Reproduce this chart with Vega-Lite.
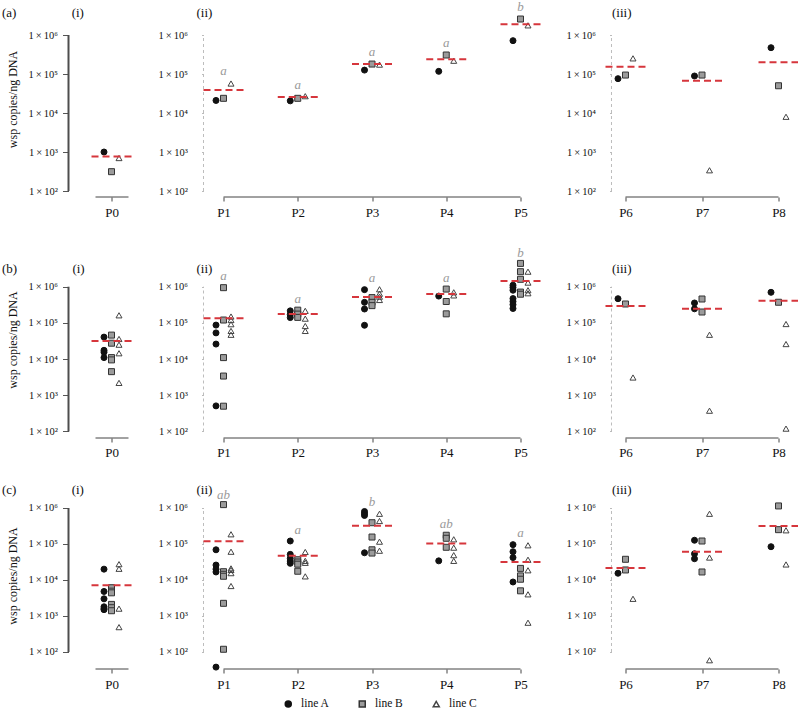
{
"$schema": "https://vega.github.io/schema/vega-lite/v6.json",
"padding": {"left": 1.5, "top": 0, "right": 0, "bottom": 0},
"datasets": {
"pts": [
{"r":"a","p":"P0","l":"line A","v":1000},{"r":"a","p":"P0","l":"line B","v":313},{"r":"a","p":"P0","l":"line C","v":700},
{"r":"a","p":"P1","l":"line A","v":21000},{"r":"a","p":"P1","l":"line B","v":23800},{"r":"a","p":"P1","l":"line C","v":57000},
{"r":"a","p":"P2","l":"line A","v":20500},{"r":"a","p":"P2","l":"line B","v":23800},{"r":"a","p":"P2","l":"line C","v":27000},
{"r":"a","p":"P3","l":"line A","v":126000},{"r":"a","p":"P3","l":"line B","v":180000},{"r":"a","p":"P3","l":"line C","v":174000},
{"r":"a","p":"P4","l":"line A","v":117000},{"r":"a","p":"P4","l":"line B","v":307000},{"r":"a","p":"P4","l":"line C","v":219000},
{"r":"a","p":"P5","l":"line A","v":716000},{"r":"a","p":"P5","l":"line B","v":2570000},{"r":"a","p":"P5","l":"line C","v":1770000},
{"r":"a","p":"P6","l":"line A","v":76000},{"r":"a","p":"P6","l":"line B","v":94000},{"r":"a","p":"P6","l":"line C","v":252000},
{"r":"a","p":"P7","l":"line A","v":89000},{"r":"a","p":"P7","l":"line B","v":94000},{"r":"a","p":"P7","l":"line C","v":340},
{"r":"a","p":"P8","l":"line A","v":473000},{"r":"a","p":"P8","l":"line B","v":50000},{"r":"a","p":"P8","l":"line C","v":8000},

{"r":"b","p":"P0","l":"line A","v":40500},{"r":"b","p":"P0","l":"line A","v":17500},{"r":"b","p":"P0","l":"line A","v":15500},{"r":"b","p":"P0","l":"line A","v":11000},
{"r":"b","p":"P0","l":"line B","v":46000},{"r":"b","p":"P0","l":"line B","v":27500},{"r":"b","p":"P0","l":"line B","v":11000},{"r":"b","p":"P0","l":"line B","v":9500},{"r":"b","p":"P0","l":"line B","v":4500},
{"r":"b","p":"P0","l":"line C","v":162000},{"r":"b","p":"P0","l":"line C","v":36000},{"r":"b","p":"P0","l":"line C","v":25000},{"r":"b","p":"P0","l":"line C","v":14500},{"r":"b","p":"P0","l":"line C","v":2200},
{"r":"b","p":"P1","l":"line A","v":87000},{"r":"b","p":"P1","l":"line A","v":53000},{"r":"b","p":"P1","l":"line A","v":26000},{"r":"b","p":"P1","l":"line A","v":510},
{"r":"b","p":"P1","l":"line B","v":940000},{"r":"b","p":"P1","l":"line B","v":120000},{"r":"b","p":"P1","l":"line B","v":11000},{"r":"b","p":"P1","l":"line B","v":3400},{"r":"b","p":"P1","l":"line B","v":500},
{"r":"b","p":"P1","l":"line C","v":150000},{"r":"b","p":"P1","l":"line C","v":120000},{"r":"b","p":"P1","l":"line C","v":92000},{"r":"b","p":"P1","l":"line C","v":60000},{"r":"b","p":"P1","l":"line C","v":47000},
{"r":"b","p":"P2","l":"line A","v":215000},{"r":"b","p":"P2","l":"line A","v":170000},{"r":"b","p":"P2","l":"line A","v":140000},
{"r":"b","p":"P2","l":"line B","v":225000},{"r":"b","p":"P2","l":"line B","v":175000},{"r":"b","p":"P2","l":"line B","v":142000},
{"r":"b","p":"P2","l":"line C","v":215000},{"r":"b","p":"P2","l":"line C","v":131000},{"r":"b","p":"P2","l":"line C","v":82000},{"r":"b","p":"P2","l":"line C","v":60000},
{"r":"b","p":"P3","l":"line A","v":830000},{"r":"b","p":"P3","l":"line A","v":370000},{"r":"b","p":"P3","l":"line A","v":242000},{"r":"b","p":"P3","l":"line A","v":86000},
{"r":"b","p":"P3","l":"line B","v":500000},{"r":"b","p":"P3","l":"line B","v":370000},{"r":"b","p":"P3","l":"line B","v":300000},
{"r":"b","p":"P3","l":"line C","v":850000},{"r":"b","p":"P3","l":"line C","v":640000},{"r":"b","p":"P3","l":"line C","v":530000},{"r":"b","p":"P3","l":"line C","v":430000},
{"r":"b","p":"P4","l":"line A","v":550000},
{"r":"b","p":"P4","l":"line B","v":860000},{"r":"b","p":"P4","l":"line B","v":390000},{"r":"b","p":"P4","l":"line B","v":178000},
{"r":"b","p":"P4","l":"line C","v":700000},{"r":"b","p":"P4","l":"line C","v":575000},
{"r":"b","p":"P5","l":"line A","v":1100000},{"r":"b","p":"P5","l":"line A","v":950000},{"r":"b","p":"P5","l":"line A","v":800000},{"r":"b","p":"P5","l":"line A","v":470000},{"r":"b","p":"P5","l":"line A","v":390000},{"r":"b","p":"P5","l":"line A","v":320000},{"r":"b","p":"P5","l":"line A","v":250000},
{"r":"b","p":"P5","l":"line B","v":4400000},{"r":"b","p":"P5","l":"line B","v":2600000},{"r":"b","p":"P5","l":"line B","v":1600000},{"r":"b","p":"P5","l":"line B","v":710000},{"r":"b","p":"P5","l":"line B","v":620000},
{"r":"b","p":"P5","l":"line C","v":2600000},{"r":"b","p":"P5","l":"line C","v":1300000},{"r":"b","p":"P5","l":"line C","v":800000},{"r":"b","p":"P5","l":"line C","v":660000},
{"r":"b","p":"P6","l":"line A","v":466000},{"r":"b","p":"P6","l":"line B","v":333000},{"r":"b","p":"P6","l":"line C","v":3100},
{"r":"b","p":"P7","l":"line A","v":355000},{"r":"b","p":"P7","l":"line A","v":245000},{"r":"b","p":"P7","l":"line B","v":457000},{"r":"b","p":"P7","l":"line B","v":200000},{"r":"b","p":"P7","l":"line C","v":47000},{"r":"b","p":"P7","l":"line C","v":375},
{"r":"b","p":"P8","l":"line A","v":700000},{"r":"b","p":"P8","l":"line B","v":372000},{"r":"b","p":"P8","l":"line C","v":93000},{"r":"b","p":"P8","l":"line C","v":26000},{"r":"b","p":"P8","l":"line C","v":120},

{"r":"c","p":"P0","l":"line A","v":20000},{"r":"c","p":"P0","l":"line A","v":4800},{"r":"c","p":"P0","l":"line A","v":3000},{"r":"c","p":"P0","l":"line A","v":1800},{"r":"c","p":"P0","l":"line A","v":1600},{"r":"c","p":"P0","l":"line A","v":1500},
{"r":"c","p":"P0","l":"line B","v":6100},{"r":"c","p":"P0","l":"line B","v":4900},{"r":"c","p":"P0","l":"line B","v":4400},{"r":"c","p":"P0","l":"line B","v":2100},{"r":"c","p":"P0","l":"line B","v":1700},{"r":"c","p":"P0","l":"line B","v":1400},
{"r":"c","p":"P0","l":"line C","v":27500},{"r":"c","p":"P0","l":"line C","v":20500},{"r":"c","p":"P0","l":"line C","v":1600},{"r":"c","p":"P0","l":"line C","v":490},
{"r":"c","p":"P1","l":"line A","v":69000},{"r":"c","p":"P1","l":"line A","v":26000},{"r":"c","p":"P1","l":"line A","v":20000},{"r":"c","p":"P1","l":"line A","v":16700},{"r":"c","p":"P1","l":"line A","v":38},
{"r":"c","p":"P1","l":"line B","v":1240000},{"r":"c","p":"P1","l":"line B","v":17000},{"r":"c","p":"P1","l":"line B","v":14400},{"r":"c","p":"P1","l":"line B","v":12700},{"r":"c","p":"P1","l":"line B","v":2250},{"r":"c","p":"P1","l":"line B","v":119},
{"r":"c","p":"P1","l":"line C","v":186000},{"r":"c","p":"P1","l":"line C","v":61000},{"r":"c","p":"P1","l":"line C","v":21000},{"r":"c","p":"P1","l":"line C","v":19000},{"r":"c","p":"P1","l":"line C","v":15500},{"r":"c","p":"P1","l":"line C","v":6800},
{"r":"c","p":"P2","l":"line A","v":121000},{"r":"c","p":"P2","l":"line A","v":51500},{"r":"c","p":"P2","l":"line A","v":40000},{"r":"c","p":"P2","l":"line A","v":33500},{"r":"c","p":"P2","l":"line A","v":29000},
{"r":"c","p":"P2","l":"line B","v":36500},{"r":"c","p":"P2","l":"line B","v":31600},{"r":"c","p":"P2","l":"line B","v":27500},{"r":"c","p":"P2","l":"line B","v":17500},
{"r":"c","p":"P2","l":"line C","v":60000},{"r":"c","p":"P2","l":"line C","v":34000},{"r":"c","p":"P2","l":"line C","v":30000},{"r":"c","p":"P2","l":"line C","v":12600},
{"r":"c","p":"P3","l":"line A","v":800000},{"r":"c","p":"P3","l":"line A","v":700000},{"r":"c","p":"P3","l":"line A","v":620000},{"r":"c","p":"P3","l":"line A","v":57000},
{"r":"c","p":"P3","l":"line B","v":390000},{"r":"c","p":"P3","l":"line B","v":156000},{"r":"c","p":"P3","l":"line B","v":69000},{"r":"c","p":"P3","l":"line B","v":56000},
{"r":"c","p":"P3","l":"line C","v":690000},{"r":"c","p":"P3","l":"line C","v":435000},{"r":"c","p":"P3","l":"line C","v":116000},{"r":"c","p":"P3","l":"line C","v":65000},
{"r":"c","p":"P4","l":"line A","v":34000},
{"r":"c","p":"P4","l":"line B","v":175000},{"r":"c","p":"P4","l":"line B","v":144000},{"r":"c","p":"P4","l":"line B","v":81000},
{"r":"c","p":"P4","l":"line C","v":135000},{"r":"c","p":"P4","l":"line C","v":79000},{"r":"c","p":"P4","l":"line C","v":49000},{"r":"c","p":"P4","l":"line C","v":34000},
{"r":"c","p":"P5","l":"line A","v":96000},{"r":"c","p":"P5","l":"line A","v":61000},{"r":"c","p":"P5","l":"line A","v":42000},{"r":"c","p":"P5","l":"line A","v":8800},
{"r":"c","p":"P5","l":"line B","v":21000},{"r":"c","p":"P5","l":"line B","v":13000},{"r":"c","p":"P5","l":"line B","v":10500},{"r":"c","p":"P5","l":"line B","v":5000},
{"r":"c","p":"P5","l":"line C","v":92000},{"r":"c","p":"P5","l":"line C","v":36500},{"r":"c","p":"P5","l":"line C","v":18600},{"r":"c","p":"P5","l":"line C","v":4000},{"r":"c","p":"P5","l":"line C","v":650},
{"r":"c","p":"P6","l":"line A","v":15400},{"r":"c","p":"P6","l":"line B","v":37600},{"r":"c","p":"P6","l":"line B","v":19000},{"r":"c","p":"P6","l":"line C","v":3000},
{"r":"c","p":"P7","l":"line A","v":127000},{"r":"c","p":"P7","l":"line A","v":53500},{"r":"c","p":"P7","l":"line A","v":39000},{"r":"c","p":"P7","l":"line B","v":121000},{"r":"c","p":"P7","l":"line B","v":16700},{"r":"c","p":"P7","l":"line C","v":690000},{"r":"c","p":"P7","l":"line C","v":42000},{"r":"c","p":"P7","l":"line C","v":59},
{"r":"c","p":"P8","l":"line A","v":84000},{"r":"c","p":"P8","l":"line B","v":1140000},{"r":"c","p":"P8","l":"line B","v":250000},{"r":"c","p":"P8","l":"line C","v":240000},{"r":"c","p":"P8","l":"line C","v":27000}
],
"means": [
{"r":"a","p":"P0","m":770},{"r":"a","p":"P1","m":39000,"lt":"a","ly":122000},{"r":"a","p":"P2","m":25700,"lt":"a","ly":52500},{"r":"a","p":"P3","m":180000,"lt":"a","ly":366000},{"r":"a","p":"P4","m":238000,"lt":"a","ly":630000},{"r":"a","p":"P5","m":1880000,"lt":"b","ly":5300000},{"r":"a","p":"P6","m":154000},{"r":"a","p":"P7","m":67000},{"r":"a","p":"P8","m":200000},
{"r":"b","p":"P0","m":31600},{"r":"b","p":"P1","m":134000,"lt":"a","ly":1980000},{"r":"b","p":"P2","m":176000,"lt":"a","ly":449000},{"r":"b","p":"P3","m":520000,"lt":"a","ly":1770000},{"r":"b","p":"P4","m":630000,"lt":"a","ly":1770000},{"r":"b","p":"P5","m":1440000,"lt":"b","ly":8700000},{"r":"b","p":"P6","m":293000},{"r":"b","p":"P7","m":245000},{"r":"b","p":"P8","m":410000},
{"r":"c","p":"P0","m":7200},{"r":"c","p":"P1","m":120000,"lt":"ab","ly":2340000},{"r":"c","p":"P2","m":47000,"lt":"a","ly":245000},{"r":"c","p":"P3","m":323000,"lt":"b","ly":1500000},{"r":"c","p":"P4","m":103000,"lt":"ab","ly":360000},{"r":"c","p":"P5","m":31600,"lt":"a","ly":198000},{"r":"c","p":"P6","m":21500},{"r":"c","p":"P7","m":61000},{"r":"c","p":"P8","m":316000}
]
},
"columns": 3,
"spacing": {"row": 44, "column": 71},
"bounds": "flush",
"align": "each",
"concat": [
{"width":64,"height":196,"title":{"text":"(a)\u00a0\u00a0\u00a0\u00a0\u00a0\u00a0\u00a0\u00a0\u00a0\u00a0\u00a0\u00a0\u00a0\u00a0\u00a0\u00a0\u00a0(i)","dx":-66.5,"offset":-19},
"resolve":{"scale":{"x":"independent"}},
"layer":[
{"data":{"name":"pts"},"transform":[{"filter":"datum.r == 'a' && datum.p == 'P0'"}],"mark":{"type":"point","opacity":1,"strokeWidth":1,"size":36},
"encoding":{"x":{"field":"p","type":"nominal","scale":{"type":"point","domain":["P0"],"padding":0,"align":0.672},"axis":{"title":null,"domain":false,"grid":false,"tickSize":4,"tickColor":"#444444","labelPadding":5,"labelAngle":0,"labelFont":"Liberation Serif","labelFontSize":13,"labelColor":"#111111"}},
"xOffset":{"field":"l","type":"nominal","scale":{"type":"point","domain":["line A","line B","line C"],"range":[-7.5,7.5],"padding":0}},
"y":{"field":"v","type":"quantitative","scale":{"type":"log","domain":[70.2,7450000],"nice":false},"axis":{"title":"wsp copies/ng DNA","domain":false,"grid":false,"values":[100,1000,10000,100000,1000000],"labelExpr":"'1\u2009×\u200910' + ['⁰','¹','²','³','⁴','⁵','⁶'][round(log(datum.value)/LN10)]","tickSize":6,"tickColor":"#555555","labelPadding":5,"labelFont":"Liberation Serif","labelFontSize":10.5,"labelColor":"#111111","titleFont":"Liberation Serif","titleFontSize":12,"titleFontWeight":"normal","titleColor":"#111111","titlePadding":8}},
"shape":{"field":"l","type":"nominal","scale":{"domain":["line A","line B","line C"],"range":["circle","square","triangle-up"]},"legend":{"title":null,"orient":"none","legendX":214,"legendY":697,"direction":"horizontal","columns":3,"gridAlign":"all","labelFont":"Liberation Serif","labelFontSize":11.5,"labelColor":"#111111","columnPadding":26,"labelOffset":7,"padding":0,"symbolSize":36}},
"fill":{"field":"l","type":"nominal","scale":{"domain":["line A","line B","line C"],"range":["#111111","#9b9b9b","transparent"]},"legend":{"title":null,"orient":"none","legendX":214,"legendY":697,"direction":"horizontal","columns":3,"gridAlign":"all","labelFont":"Liberation Serif","labelFontSize":11.5,"labelColor":"#111111","columnPadding":26,"labelOffset":7,"padding":0,"symbolSize":36}},
"stroke":{"field":"l","type":"nominal","scale":{"domain":["line A","line B","line C"],"range":["#111111","#333333","#444444"]},"legend":{"title":null,"orient":"none","legendX":214,"legendY":697,"direction":"horizontal","columns":3,"gridAlign":"all","labelFont":"Liberation Serif","labelFontSize":11.5,"labelColor":"#111111","columnPadding":26,"labelOffset":7,"padding":0,"symbolSize":36}}}},
{"data":{"values":[{}]},"mark":{"type":"rule","color":"#4d4d4d","strokeWidth":2},"encoding":{"x":{"datum":0,"type":"quantitative","scale":{"domain":[0,1]},"axis":null},"y":{"datum":100,"type":"quantitative"},"y2":{"datum":1000000}}},
{"data":{"values":[{}]},"mark":{"type":"rule","color":"#444444","strokeWidth":1,"xOffset":-16,"x2Offset":17},"encoding":{"x":{"datum":"P0","type":"nominal","scale":{"type":"point","domain":["P0"],"padding":0,"align":0.672},"axis":null},"x2":{"datum":"P0"},"y":{"datum":70.2,"type":"quantitative"}}},
{"data":{"name":"means"},"transform":[{"filter":"datum.r == 'a' && datum.p == 'P0'"}],"mark":{"type":"rule","color":"#d6363c","strokeWidth":2,"strokeDash":[7,4],"xOffset":-20,"x2Offset":20},"encoding":{"x":{"field":"p","type":"nominal","scale":{"type":"point","domain":["P0"],"padding":0,"align":0.672},"axis":null},"x2":{"field":"p"},"y":{"field":"m","type":"quantitative"}}}
]},
{"width":337,"height":196,"title":{"text":"(ii)","dx":-7,"offset":-19},
"layer":[
{"data":{"name":"pts"},"transform":[{"filter":"datum.r == 'a' && indexof(['P1','P2','P3','P4','P5'], datum.p) >= 0"}],"mark":{"type":"point","opacity":1,"strokeWidth":1,"size":36},
"encoding":{"x":{"field":"p","type":"nominal","scale":{"type":"point","domain":["P1","P2","P3","P4","P5"],"padding":0.2694},"axis":{"title":null,"domain":false,"grid":false,"tickSize":4,"tickColor":"#444444","labelPadding":5,"labelAngle":0,"labelFont":"Liberation Serif","labelFontSize":13,"labelColor":"#111111"}},
"xOffset":{"field":"l","type":"nominal","scale":{"type":"point","domain":["line A","line B","line C"],"range":[-7.5,7.5],"padding":0}},
"y":{"field":"v","type":"quantitative","scale":{"type":"log","domain":[70.2,7450000],"nice":false},"axis":{"title":null,"domain":false,"grid":false,"values":[100,1000,10000,100000,1000000],"labelExpr":"'1\u2009×\u200910' + ['⁰','¹','²','³','⁴','⁵','⁶'][round(log(datum.value)/LN10)]","tickSize":2,"tickColor":"#bbbbbb","labelPadding":14,"labelFont":"Liberation Serif","labelFontSize":10.5,"labelColor":"#111111"}},
"shape":{"field":"l","type":"nominal","scale":{"domain":["line A","line B","line C"],"range":["circle","square","triangle-up"]},"legend":{"title":null,"orient":"none","legendX":214,"legendY":697,"direction":"horizontal","columns":3,"gridAlign":"all","labelFont":"Liberation Serif","labelFontSize":11.5,"labelColor":"#111111","columnPadding":26,"labelOffset":7,"padding":0,"symbolSize":36}},
"fill":{"field":"l","type":"nominal","scale":{"domain":["line A","line B","line C"],"range":["#111111","#9b9b9b","transparent"]},"legend":{"title":null,"orient":"none","legendX":214,"legendY":697,"direction":"horizontal","columns":3,"gridAlign":"all","labelFont":"Liberation Serif","labelFontSize":11.5,"labelColor":"#111111","columnPadding":26,"labelOffset":7,"padding":0,"symbolSize":36}},
"stroke":{"field":"l","type":"nominal","scale":{"domain":["line A","line B","line C"],"range":["#111111","#333333","#444444"]},"legend":{"title":null,"orient":"none","legendX":214,"legendY":697,"direction":"horizontal","columns":3,"gridAlign":"all","labelFont":"Liberation Serif","labelFontSize":11.5,"labelColor":"#111111","columnPadding":26,"labelOffset":7,"padding":0,"symbolSize":36}}}},
{"data":{"values":[{}]},"mark":{"type":"rule","color":"#bdbdbd","strokeWidth":1,"strokeDash":[3,3],"xOffset":-20},"encoding":{"x":{"datum":"P1","type":"nominal"},"y":{"datum":100,"type":"quantitative"},"y2":{"datum":1000000}}},
{"data":{"values":[{}]},"mark":{"type":"rule","color":"#444444","strokeWidth":1},"encoding":{"x":{"datum":"P1","type":"nominal"},"x2":{"datum":"P5"},"y":{"datum":70.2,"type":"quantitative"}}},
{"data":{"name":"means"},"transform":[{"filter":"datum.r == 'a' && indexof(['P1','P2','P3','P4','P5'], datum.p) >= 0"}],"mark":{"type":"rule","color":"#d6363c","strokeWidth":2,"strokeDash":[7,4],"xOffset":-20,"x2Offset":20},"encoding":{"x":{"field":"p","type":"nominal"},"x2":{"field":"p"},"y":{"field":"m","type":"quantitative"}}},
{"data":{"name":"means"},"transform":[{"filter":"datum.r == 'a' && datum.lt != null && indexof(['P1','P2','P3','P4','P5'], datum.p) >= 0"}],"mark":{"type":"text","font":"Liberation Serif","fontStyle":"italic","fontSize":13,"color":"#9a9a9a","baseline":"middle"},"encoding":{"x":{"field":"p","type":"nominal"},"y":{"field":"ly","type":"quantitative"},"text":{"field":"lt"}}}
]},
{"width":181,"height":196,"title":{"text":"(iii)","dx":0.5,"offset":-19},
"layer":[
{"data":{"name":"pts"},"transform":[{"filter":"datum.r == 'a' && indexof(['P6','P7','P8'], datum.p) >= 0"}],"mark":{"type":"point","opacity":1,"strokeWidth":1,"size":36},
"encoding":{"x":{"field":"p","type":"nominal","scale":{"type":"point","domain":["P6","P7","P8"],"padding":0.183},"axis":{"title":null,"domain":false,"grid":false,"tickSize":4,"tickColor":"#444444","labelPadding":5,"labelAngle":0,"labelFont":"Liberation Serif","labelFontSize":13,"labelColor":"#111111"}},
"xOffset":{"field":"l","type":"nominal","scale":{"type":"point","domain":["line A","line B","line C"],"range":[-7.5,7.5],"padding":0}},
"y":{"field":"v","type":"quantitative","scale":{"type":"log","domain":[70.2,7450000],"nice":false},"axis":{"title":null,"domain":false,"grid":false,"values":[100,1000,10000,100000,1000000],"labelExpr":"'1\u2009×\u200910' + ['⁰','¹','²','³','⁴','⁵','⁶'][round(log(datum.value)/LN10)]","tickSize":2,"tickColor":"#bbbbbb","labelPadding":14,"labelFont":"Liberation Serif","labelFontSize":10.5,"labelColor":"#111111"}},
"shape":{"field":"l","type":"nominal","scale":{"domain":["line A","line B","line C"],"range":["circle","square","triangle-up"]},"legend":{"title":null,"orient":"none","legendX":214,"legendY":697,"direction":"horizontal","columns":3,"gridAlign":"all","labelFont":"Liberation Serif","labelFontSize":11.5,"labelColor":"#111111","columnPadding":26,"labelOffset":7,"padding":0,"symbolSize":36}},
"fill":{"field":"l","type":"nominal","scale":{"domain":["line A","line B","line C"],"range":["#111111","#9b9b9b","transparent"]},"legend":{"title":null,"orient":"none","legendX":214,"legendY":697,"direction":"horizontal","columns":3,"gridAlign":"all","labelFont":"Liberation Serif","labelFontSize":11.5,"labelColor":"#111111","columnPadding":26,"labelOffset":7,"padding":0,"symbolSize":36}},
"stroke":{"field":"l","type":"nominal","scale":{"domain":["line A","line B","line C"],"range":["#111111","#333333","#444444"]},"legend":{"title":null,"orient":"none","legendX":214,"legendY":697,"direction":"horizontal","columns":3,"gridAlign":"all","labelFont":"Liberation Serif","labelFontSize":11.5,"labelColor":"#111111","columnPadding":26,"labelOffset":7,"padding":0,"symbolSize":36}}}},
{"data":{"values":[{}]},"mark":{"type":"rule","color":"#bdbdbd","strokeWidth":1,"strokeDash":[3,3],"xOffset":-14},"encoding":{"x":{"datum":"P6","type":"nominal"},"y":{"datum":100,"type":"quantitative"},"y2":{"datum":1000000}}},
{"data":{"values":[{}]},"mark":{"type":"rule","color":"#444444","strokeWidth":1},"encoding":{"x":{"datum":"P6","type":"nominal"},"x2":{"datum":"P8"},"y":{"datum":70.2,"type":"quantitative"}}},
{"data":{"name":"means"},"transform":[{"filter":"datum.r == 'a' && indexof(['P6','P7','P8'], datum.p) >= 0"}],"mark":{"type":"rule","color":"#d6363c","strokeWidth":2,"strokeDash":[7,4],"xOffset":-20,"x2Offset":20},"encoding":{"x":{"field":"p","type":"nominal"},"x2":{"field":"p"},"y":{"field":"m","type":"quantitative"}}}
]},

{"width":64,"height":197,"title":{"text":"(b)\u00a0\u00a0\u00a0\u00a0\u00a0\u00a0\u00a0\u00a0\u00a0\u00a0\u00a0\u00a0\u00a0\u00a0\u00a0\u00a0\u00a0(i)","dx":-66.5,"offset":-35},
"resolve":{"scale":{"x":"independent"}},
"layer":[
{"data":{"name":"pts"},"transform":[{"filter":"datum.r == 'b' && datum.p == 'P0'"}],"mark":{"type":"point","opacity":1,"strokeWidth":1,"size":36},
"encoding":{"x":{"field":"p","type":"nominal","scale":{"type":"point","domain":["P0"],"padding":0,"align":0.672},"axis":{"title":null,"domain":false,"grid":false,"tickSize":4,"tickColor":"#444444","labelPadding":4,"labelAngle":0,"labelFont":"Liberation Serif","labelFontSize":13,"labelColor":"#111111"}},
"xOffset":{"field":"l","type":"nominal","scale":{"type":"point","domain":["line A","line B","line C"],"range":[-7.5,7.5],"padding":0}},
"y":{"field":"v","type":"quantitative","scale":{"type":"log","domain":[66.1,18300000],"nice":false},"axis":{"title":"wsp copies/ng DNA","domain":false,"grid":false,"values":[100,1000,10000,100000,1000000],"labelExpr":"'1\u2009×\u200910' + ['⁰','¹','²','³','⁴','⁵','⁶'][round(log(datum.value)/LN10)]","tickSize":6,"tickColor":"#555555","labelPadding":5,"labelFont":"Liberation Serif","labelFontSize":10.5,"labelColor":"#111111","titleFont":"Liberation Serif","titleFontSize":12,"titleFontWeight":"normal","titleColor":"#111111","titlePadding":8}},
"shape":{"field":"l","type":"nominal","scale":{"domain":["line A","line B","line C"],"range":["circle","square","triangle-up"]},"legend":{"title":null,"orient":"none","legendX":214,"legendY":697,"direction":"horizontal","columns":3,"gridAlign":"all","labelFont":"Liberation Serif","labelFontSize":11.5,"labelColor":"#111111","columnPadding":26,"labelOffset":7,"padding":0,"symbolSize":36}},
"fill":{"field":"l","type":"nominal","scale":{"domain":["line A","line B","line C"],"range":["#111111","#9b9b9b","transparent"]},"legend":{"title":null,"orient":"none","legendX":214,"legendY":697,"direction":"horizontal","columns":3,"gridAlign":"all","labelFont":"Liberation Serif","labelFontSize":11.5,"labelColor":"#111111","columnPadding":26,"labelOffset":7,"padding":0,"symbolSize":36}},
"stroke":{"field":"l","type":"nominal","scale":{"domain":["line A","line B","line C"],"range":["#111111","#333333","#444444"]},"legend":{"title":null,"orient":"none","legendX":214,"legendY":697,"direction":"horizontal","columns":3,"gridAlign":"all","labelFont":"Liberation Serif","labelFontSize":11.5,"labelColor":"#111111","columnPadding":26,"labelOffset":7,"padding":0,"symbolSize":36}}}},
{"data":{"values":[{}]},"mark":{"type":"rule","color":"#4d4d4d","strokeWidth":2},"encoding":{"x":{"datum":0,"type":"quantitative","scale":{"domain":[0,1]},"axis":null},"y":{"datum":100,"type":"quantitative"},"y2":{"datum":1000000}}},
{"data":{"values":[{}]},"mark":{"type":"rule","color":"#444444","strokeWidth":1,"xOffset":-16,"x2Offset":17},"encoding":{"x":{"datum":"P0","type":"nominal","scale":{"type":"point","domain":["P0"],"padding":0,"align":0.672},"axis":null},"x2":{"datum":"P0"},"y":{"datum":66.1,"type":"quantitative"}}},
{"data":{"name":"means"},"transform":[{"filter":"datum.r == 'b' && datum.p == 'P0'"}],"mark":{"type":"rule","color":"#d6363c","strokeWidth":2,"strokeDash":[7,4],"xOffset":-20,"x2Offset":20},"encoding":{"x":{"field":"p","type":"nominal","scale":{"type":"point","domain":["P0"],"padding":0,"align":0.672},"axis":null},"x2":{"field":"p"},"y":{"field":"m","type":"quantitative"}}}
]},
{"width":337,"height":197,"title":{"text":"(ii)","dx":-7,"offset":-35},
"layer":[
{"data":{"name":"pts"},"transform":[{"filter":"datum.r == 'b' && indexof(['P1','P2','P3','P4','P5'], datum.p) >= 0"}],"mark":{"type":"point","opacity":1,"strokeWidth":1,"size":36},
"encoding":{"x":{"field":"p","type":"nominal","scale":{"type":"point","domain":["P1","P2","P3","P4","P5"],"padding":0.2694},"axis":{"title":null,"domain":false,"grid":false,"tickSize":4,"tickColor":"#444444","labelPadding":4,"labelAngle":0,"labelFont":"Liberation Serif","labelFontSize":13,"labelColor":"#111111"}},
"xOffset":{"field":"l","type":"nominal","scale":{"type":"point","domain":["line A","line B","line C"],"range":[-7.5,7.5],"padding":0}},
"y":{"field":"v","type":"quantitative","scale":{"type":"log","domain":[66.1,18300000],"nice":false},"axis":{"title":null,"domain":false,"grid":false,"values":[100,1000,10000,100000,1000000],"labelExpr":"'1\u2009×\u200910' + ['⁰','¹','²','³','⁴','⁵','⁶'][round(log(datum.value)/LN10)]","tickSize":2,"tickColor":"#bbbbbb","labelPadding":14,"labelFont":"Liberation Serif","labelFontSize":10.5,"labelColor":"#111111"}},
"shape":{"field":"l","type":"nominal","scale":{"domain":["line A","line B","line C"],"range":["circle","square","triangle-up"]},"legend":{"title":null,"orient":"none","legendX":214,"legendY":697,"direction":"horizontal","columns":3,"gridAlign":"all","labelFont":"Liberation Serif","labelFontSize":11.5,"labelColor":"#111111","columnPadding":26,"labelOffset":7,"padding":0,"symbolSize":36}},
"fill":{"field":"l","type":"nominal","scale":{"domain":["line A","line B","line C"],"range":["#111111","#9b9b9b","transparent"]},"legend":{"title":null,"orient":"none","legendX":214,"legendY":697,"direction":"horizontal","columns":3,"gridAlign":"all","labelFont":"Liberation Serif","labelFontSize":11.5,"labelColor":"#111111","columnPadding":26,"labelOffset":7,"padding":0,"symbolSize":36}},
"stroke":{"field":"l","type":"nominal","scale":{"domain":["line A","line B","line C"],"range":["#111111","#333333","#444444"]},"legend":{"title":null,"orient":"none","legendX":214,"legendY":697,"direction":"horizontal","columns":3,"gridAlign":"all","labelFont":"Liberation Serif","labelFontSize":11.5,"labelColor":"#111111","columnPadding":26,"labelOffset":7,"padding":0,"symbolSize":36}}}},
{"data":{"values":[{}]},"mark":{"type":"rule","color":"#bdbdbd","strokeWidth":1,"strokeDash":[3,3],"xOffset":-20},"encoding":{"x":{"datum":"P1","type":"nominal"},"y":{"datum":100,"type":"quantitative"},"y2":{"datum":1000000}}},
{"data":{"values":[{}]},"mark":{"type":"rule","color":"#444444","strokeWidth":1},"encoding":{"x":{"datum":"P1","type":"nominal"},"x2":{"datum":"P5"},"y":{"datum":66.1,"type":"quantitative"}}},
{"data":{"name":"means"},"transform":[{"filter":"datum.r == 'b' && indexof(['P1','P2','P3','P4','P5'], datum.p) >= 0"}],"mark":{"type":"rule","color":"#d6363c","strokeWidth":2,"strokeDash":[7,4],"xOffset":-20,"x2Offset":20},"encoding":{"x":{"field":"p","type":"nominal"},"x2":{"field":"p"},"y":{"field":"m","type":"quantitative"}}},
{"data":{"name":"means"},"transform":[{"filter":"datum.r == 'b' && datum.lt != null && indexof(['P1','P2','P3','P4','P5'], datum.p) >= 0"}],"mark":{"type":"text","font":"Liberation Serif","fontStyle":"italic","fontSize":13,"color":"#9a9a9a","baseline":"middle"},"encoding":{"x":{"field":"p","type":"nominal"},"y":{"field":"ly","type":"quantitative"},"text":{"field":"lt"}}}
]},
{"width":181,"height":197,"title":{"text":"(iii)","dx":0.5,"offset":-35},
"layer":[
{"data":{"name":"pts"},"transform":[{"filter":"datum.r == 'b' && indexof(['P6','P7','P8'], datum.p) >= 0"}],"mark":{"type":"point","opacity":1,"strokeWidth":1,"size":36},
"encoding":{"x":{"field":"p","type":"nominal","scale":{"type":"point","domain":["P6","P7","P8"],"padding":0.183},"axis":{"title":null,"domain":false,"grid":false,"tickSize":4,"tickColor":"#444444","labelPadding":4,"labelAngle":0,"labelFont":"Liberation Serif","labelFontSize":13,"labelColor":"#111111"}},
"xOffset":{"field":"l","type":"nominal","scale":{"type":"point","domain":["line A","line B","line C"],"range":[-7.5,7.5],"padding":0}},
"y":{"field":"v","type":"quantitative","scale":{"type":"log","domain":[66.1,18300000],"nice":false},"axis":{"title":null,"domain":false,"grid":false,"values":[100,1000,10000,100000,1000000],"labelExpr":"'1\u2009×\u200910' + ['⁰','¹','²','³','⁴','⁵','⁶'][round(log(datum.value)/LN10)]","tickSize":2,"tickColor":"#bbbbbb","labelPadding":14,"labelFont":"Liberation Serif","labelFontSize":10.5,"labelColor":"#111111"}},
"shape":{"field":"l","type":"nominal","scale":{"domain":["line A","line B","line C"],"range":["circle","square","triangle-up"]},"legend":{"title":null,"orient":"none","legendX":214,"legendY":697,"direction":"horizontal","columns":3,"gridAlign":"all","labelFont":"Liberation Serif","labelFontSize":11.5,"labelColor":"#111111","columnPadding":26,"labelOffset":7,"padding":0,"symbolSize":36}},
"fill":{"field":"l","type":"nominal","scale":{"domain":["line A","line B","line C"],"range":["#111111","#9b9b9b","transparent"]},"legend":{"title":null,"orient":"none","legendX":214,"legendY":697,"direction":"horizontal","columns":3,"gridAlign":"all","labelFont":"Liberation Serif","labelFontSize":11.5,"labelColor":"#111111","columnPadding":26,"labelOffset":7,"padding":0,"symbolSize":36}},
"stroke":{"field":"l","type":"nominal","scale":{"domain":["line A","line B","line C"],"range":["#111111","#333333","#444444"]},"legend":{"title":null,"orient":"none","legendX":214,"legendY":697,"direction":"horizontal","columns":3,"gridAlign":"all","labelFont":"Liberation Serif","labelFontSize":11.5,"labelColor":"#111111","columnPadding":26,"labelOffset":7,"padding":0,"symbolSize":36}}}},
{"data":{"values":[{}]},"mark":{"type":"rule","color":"#bdbdbd","strokeWidth":1,"strokeDash":[3,3],"xOffset":-14},"encoding":{"x":{"datum":"P6","type":"nominal"},"y":{"datum":100,"type":"quantitative"},"y2":{"datum":1000000}}},
{"data":{"values":[{}]},"mark":{"type":"rule","color":"#444444","strokeWidth":1},"encoding":{"x":{"datum":"P6","type":"nominal"},"x2":{"datum":"P8"},"y":{"datum":66.1,"type":"quantitative"}}},
{"data":{"name":"means"},"transform":[{"filter":"datum.r == 'b' && indexof(['P6','P7','P8'], datum.p) >= 0"}],"mark":{"type":"rule","color":"#d6363c","strokeWidth":2,"strokeDash":[7,4],"xOffset":-20,"x2Offset":20},"encoding":{"x":{"field":"p","type":"nominal"},"x2":{"field":"p"},"y":{"field":"m","type":"quantitative"}}}
]},

{"width":64,"height":187,"title":{"text":"(c)\u00a0\u00a0\u00a0\u00a0\u00a0\u00a0\u00a0\u00a0\u00a0\u00a0\u00a0\u00a0\u00a0\u00a0\u00a0\u00a0\u00a0(i)","dx":-66.5,"offset":-15},
"resolve":{"scale":{"x":"independent"}},
"layer":[
{"data":{"name":"pts"},"transform":[{"filter":"datum.r == 'c' && datum.p == 'P0'"}],"mark":{"type":"point","opacity":1,"strokeWidth":1,"size":36},
"encoding":{"x":{"field":"p","type":"nominal","scale":{"type":"point","domain":["P0"],"padding":0,"align":0.672},"axis":{"title":null,"domain":false,"grid":false,"tickSize":4,"tickColor":"#444444","labelPadding":5,"labelAngle":0,"labelFont":"Liberation Serif","labelFontSize":13,"labelColor":"#111111"}},
"xOffset":{"field":"l","type":"nominal","scale":{"type":"point","domain":["line A","line B","line C"],"range":[-7.5,7.5],"padding":0}},
"y":{"field":"v","type":"quantitative","scale":{"type":"log","domain":[33.7,5270000],"nice":false},"axis":{"title":"wsp copies/ng DNA","domain":false,"grid":false,"values":[100,1000,10000,100000,1000000],"labelExpr":"'1\u2009×\u200910' + ['⁰','¹','²','³','⁴','⁵','⁶'][round(log(datum.value)/LN10)]","tickSize":6,"tickColor":"#555555","labelPadding":5,"labelFont":"Liberation Serif","labelFontSize":10.5,"labelColor":"#111111","titleFont":"Liberation Serif","titleFontSize":12,"titleFontWeight":"normal","titleColor":"#111111","titlePadding":8}},
"shape":{"field":"l","type":"nominal","scale":{"domain":["line A","line B","line C"],"range":["circle","square","triangle-up"]},"legend":{"title":null,"orient":"none","legendX":214,"legendY":697,"direction":"horizontal","columns":3,"gridAlign":"all","labelFont":"Liberation Serif","labelFontSize":11.5,"labelColor":"#111111","columnPadding":26,"labelOffset":7,"padding":0,"symbolSize":36}},
"fill":{"field":"l","type":"nominal","scale":{"domain":["line A","line B","line C"],"range":["#111111","#9b9b9b","transparent"]},"legend":{"title":null,"orient":"none","legendX":214,"legendY":697,"direction":"horizontal","columns":3,"gridAlign":"all","labelFont":"Liberation Serif","labelFontSize":11.5,"labelColor":"#111111","columnPadding":26,"labelOffset":7,"padding":0,"symbolSize":36}},
"stroke":{"field":"l","type":"nominal","scale":{"domain":["line A","line B","line C"],"range":["#111111","#333333","#444444"]},"legend":{"title":null,"orient":"none","legendX":214,"legendY":697,"direction":"horizontal","columns":3,"gridAlign":"all","labelFont":"Liberation Serif","labelFontSize":11.5,"labelColor":"#111111","columnPadding":26,"labelOffset":7,"padding":0,"symbolSize":36}}}},
{"data":{"values":[{}]},"mark":{"type":"rule","color":"#4d4d4d","strokeWidth":2},"encoding":{"x":{"datum":0,"type":"quantitative","scale":{"domain":[0,1]},"axis":null},"y":{"datum":100,"type":"quantitative"},"y2":{"datum":1000000}}},
{"data":{"values":[{}]},"mark":{"type":"rule","color":"#444444","strokeWidth":1,"xOffset":-16,"x2Offset":17},"encoding":{"x":{"datum":"P0","type":"nominal","scale":{"type":"point","domain":["P0"],"padding":0,"align":0.672},"axis":null},"x2":{"datum":"P0"},"y":{"datum":33.7,"type":"quantitative"}}},
{"data":{"name":"means"},"transform":[{"filter":"datum.r == 'c' && datum.p == 'P0'"}],"mark":{"type":"rule","color":"#d6363c","strokeWidth":2,"strokeDash":[7,4],"xOffset":-20,"x2Offset":20},"encoding":{"x":{"field":"p","type":"nominal","scale":{"type":"point","domain":["P0"],"padding":0,"align":0.672},"axis":null},"x2":{"field":"p"},"y":{"field":"m","type":"quantitative"}}}
]},
{"width":337,"height":187,"title":{"text":"(ii)","dx":-7,"offset":-15},
"layer":[
{"data":{"name":"pts"},"transform":[{"filter":"datum.r == 'c' && indexof(['P1','P2','P3','P4','P5'], datum.p) >= 0"}],"mark":{"type":"point","opacity":1,"strokeWidth":1,"size":36},
"encoding":{"x":{"field":"p","type":"nominal","scale":{"type":"point","domain":["P1","P2","P3","P4","P5"],"padding":0.2694},"axis":{"title":null,"domain":false,"grid":false,"tickSize":4,"tickColor":"#444444","labelPadding":5,"labelAngle":0,"labelFont":"Liberation Serif","labelFontSize":13,"labelColor":"#111111"}},
"xOffset":{"field":"l","type":"nominal","scale":{"type":"point","domain":["line A","line B","line C"],"range":[-7.5,7.5],"padding":0}},
"y":{"field":"v","type":"quantitative","scale":{"type":"log","domain":[33.7,5270000],"nice":false},"axis":{"title":null,"domain":false,"grid":false,"values":[100,1000,10000,100000,1000000],"labelExpr":"'1\u2009×\u200910' + ['⁰','¹','²','³','⁴','⁵','⁶'][round(log(datum.value)/LN10)]","tickSize":2,"tickColor":"#bbbbbb","labelPadding":14,"labelFont":"Liberation Serif","labelFontSize":10.5,"labelColor":"#111111"}},
"shape":{"field":"l","type":"nominal","scale":{"domain":["line A","line B","line C"],"range":["circle","square","triangle-up"]},"legend":{"title":null,"orient":"none","legendX":214,"legendY":697,"direction":"horizontal","columns":3,"gridAlign":"all","labelFont":"Liberation Serif","labelFontSize":11.5,"labelColor":"#111111","columnPadding":26,"labelOffset":7,"padding":0,"symbolSize":36}},
"fill":{"field":"l","type":"nominal","scale":{"domain":["line A","line B","line C"],"range":["#111111","#9b9b9b","transparent"]},"legend":{"title":null,"orient":"none","legendX":214,"legendY":697,"direction":"horizontal","columns":3,"gridAlign":"all","labelFont":"Liberation Serif","labelFontSize":11.5,"labelColor":"#111111","columnPadding":26,"labelOffset":7,"padding":0,"symbolSize":36}},
"stroke":{"field":"l","type":"nominal","scale":{"domain":["line A","line B","line C"],"range":["#111111","#333333","#444444"]},"legend":{"title":null,"orient":"none","legendX":214,"legendY":697,"direction":"horizontal","columns":3,"gridAlign":"all","labelFont":"Liberation Serif","labelFontSize":11.5,"labelColor":"#111111","columnPadding":26,"labelOffset":7,"padding":0,"symbolSize":36}}}},
{"data":{"values":[{}]},"mark":{"type":"rule","color":"#bdbdbd","strokeWidth":1,"strokeDash":[3,3],"xOffset":-20},"encoding":{"x":{"datum":"P1","type":"nominal"},"y":{"datum":100,"type":"quantitative"},"y2":{"datum":1000000}}},
{"data":{"values":[{}]},"mark":{"type":"rule","color":"#444444","strokeWidth":1},"encoding":{"x":{"datum":"P1","type":"nominal"},"x2":{"datum":"P5"},"y":{"datum":33.7,"type":"quantitative"}}},
{"data":{"name":"means"},"transform":[{"filter":"datum.r == 'c' && indexof(['P1','P2','P3','P4','P5'], datum.p) >= 0"}],"mark":{"type":"rule","color":"#d6363c","strokeWidth":2,"strokeDash":[7,4],"xOffset":-20,"x2Offset":20},"encoding":{"x":{"field":"p","type":"nominal"},"x2":{"field":"p"},"y":{"field":"m","type":"quantitative"}}},
{"data":{"name":"means"},"transform":[{"filter":"datum.r == 'c' && datum.lt != null && indexof(['P1','P2','P3','P4','P5'], datum.p) >= 0"}],"mark":{"type":"text","font":"Liberation Serif","fontStyle":"italic","fontSize":13,"color":"#9a9a9a","baseline":"middle"},"encoding":{"x":{"field":"p","type":"nominal"},"y":{"field":"ly","type":"quantitative"},"text":{"field":"lt"}}}
]},
{"width":181,"height":187,"title":{"text":"(iii)","dx":0.5,"offset":-15},
"layer":[
{"data":{"name":"pts"},"transform":[{"filter":"datum.r == 'c' && indexof(['P6','P7','P8'], datum.p) >= 0"}],"mark":{"type":"point","opacity":1,"strokeWidth":1,"size":36},
"encoding":{"x":{"field":"p","type":"nominal","scale":{"type":"point","domain":["P6","P7","P8"],"padding":0.183},"axis":{"title":null,"domain":false,"grid":false,"tickSize":4,"tickColor":"#444444","labelPadding":5,"labelAngle":0,"labelFont":"Liberation Serif","labelFontSize":13,"labelColor":"#111111"}},
"xOffset":{"field":"l","type":"nominal","scale":{"type":"point","domain":["line A","line B","line C"],"range":[-7.5,7.5],"padding":0}},
"y":{"field":"v","type":"quantitative","scale":{"type":"log","domain":[33.7,5270000],"nice":false},"axis":{"title":null,"domain":false,"grid":false,"values":[100,1000,10000,100000,1000000],"labelExpr":"'1\u2009×\u200910' + ['⁰','¹','²','³','⁴','⁵','⁶'][round(log(datum.value)/LN10)]","tickSize":2,"tickColor":"#bbbbbb","labelPadding":14,"labelFont":"Liberation Serif","labelFontSize":10.5,"labelColor":"#111111"}},
"shape":{"field":"l","type":"nominal","scale":{"domain":["line A","line B","line C"],"range":["circle","square","triangle-up"]},"legend":{"title":null,"orient":"none","legendX":214,"legendY":697,"direction":"horizontal","columns":3,"gridAlign":"all","labelFont":"Liberation Serif","labelFontSize":11.5,"labelColor":"#111111","columnPadding":26,"labelOffset":7,"padding":0,"symbolSize":36}},
"fill":{"field":"l","type":"nominal","scale":{"domain":["line A","line B","line C"],"range":["#111111","#9b9b9b","transparent"]},"legend":{"title":null,"orient":"none","legendX":214,"legendY":697,"direction":"horizontal","columns":3,"gridAlign":"all","labelFont":"Liberation Serif","labelFontSize":11.5,"labelColor":"#111111","columnPadding":26,"labelOffset":7,"padding":0,"symbolSize":36}},
"stroke":{"field":"l","type":"nominal","scale":{"domain":["line A","line B","line C"],"range":["#111111","#333333","#444444"]},"legend":{"title":null,"orient":"none","legendX":214,"legendY":697,"direction":"horizontal","columns":3,"gridAlign":"all","labelFont":"Liberation Serif","labelFontSize":11.5,"labelColor":"#111111","columnPadding":26,"labelOffset":7,"padding":0,"symbolSize":36}}}},
{"data":{"values":[{}]},"mark":{"type":"rule","color":"#bdbdbd","strokeWidth":1,"strokeDash":[3,3],"xOffset":-14},"encoding":{"x":{"datum":"P6","type":"nominal"},"y":{"datum":100,"type":"quantitative"},"y2":{"datum":1000000}}},
{"data":{"values":[{}]},"mark":{"type":"rule","color":"#444444","strokeWidth":1},"encoding":{"x":{"datum":"P6","type":"nominal"},"x2":{"datum":"P8"},"y":{"datum":33.7,"type":"quantitative"}}},
{"data":{"name":"means"},"transform":[{"filter":"datum.r == 'c' && indexof(['P6','P7','P8'], datum.p) >= 0"}],"mark":{"type":"rule","color":"#d6363c","strokeWidth":2,"strokeDash":[7,4],"xOffset":-20,"x2Offset":20},"encoding":{"x":{"field":"p","type":"nominal"},"x2":{"field":"p"},"y":{"field":"m","type":"quantitative"}}}
]}
],
"config": {
"view": {"stroke": null},
"title": {"font": "Liberation Serif", "fontSize": 13, "fontWeight": "normal", "anchor": "start", "frame": "group", "baseline": "middle", "color": "#111111"}
}
}
